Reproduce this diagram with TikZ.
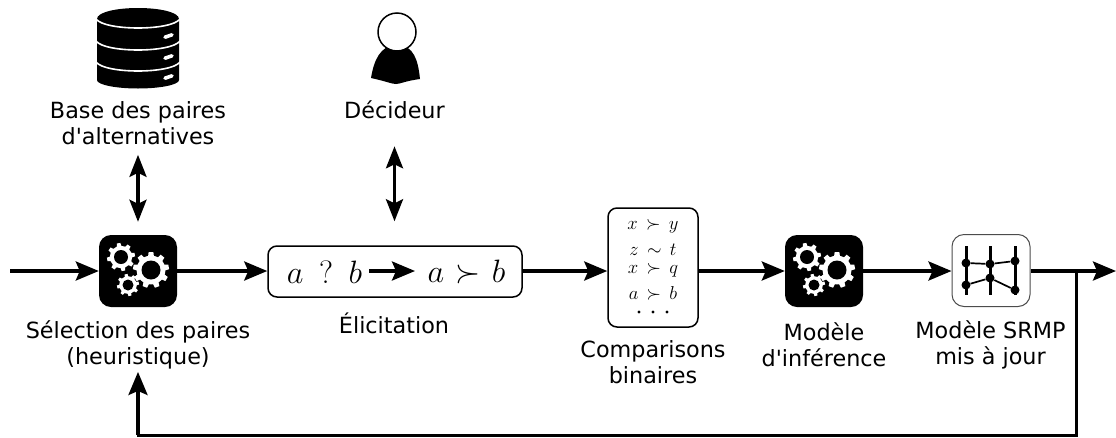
\documentclass[tikz,border=0pt]{standalone}
\usepackage{fontspec}
\usepackage{amssymb}
\setmainfont[Ligatures=TeXOff]{DejaVu Sans}
\usetikzlibrary{arrows.meta,calc}
\tikzset{
  flow/.style={line width=3.3pt,-{Stealth[length=23pt,width=19pt,inset=4pt]}},
  biflow/.style={line width=3.3pt,{Stealth[length=22pt,width=17pt,inset=4pt]}-{Stealth[length=22pt,width=17pt,inset=4pt]}},
  plain/.style={line width=3pt},
  label/.style={font=\fontsize{22.3}{26}\selectfont,align=center,inner sep=0pt},
  engine/.style={fill=black,rounded corners=12pt,minimum width=78pt,minimum height=72pt,inner sep=0pt},
  boxed/.style={draw,line width=1.5pt,rounded corners=9pt,inner sep=0pt,fill=white},
  mathbig/.style={font=\fontsize{24.88}{30}\selectfont,inner sep=0pt,scale=1.3,transform shape},
  mathsmall/.style={font=\fontsize{17}{20}\selectfont,inner sep=0pt,scale=1.08,transform shape},
  netline/.style={line width=3pt},
  netlink/.style={line width=1.7pt},
  netdot/.style={circle,fill=black,minimum size=9pt,inner sep=0pt}
}
\newcommand{\cog}[5]{% x y R r teeth
  \fill[white] (#1,#2) circle[radius=#3*0.8];
  \foreach \ang in {1,...,#5}{
    \fill[white,shift={(#1,#2)},rotate=\ang*360/#5+10] (#3*0.7,-#3*0.17) -- (#3,-#3*0.13) -- (#3,#3*0.13) -- (#3*0.7,#3*0.17) -- cycle;
  }
  \fill[black] (#1,#2) circle[radius=#4];
}
\newcommand{\gearset}[2]{%
  \begin{scope}[shift={(#1,#2)}]
  \cog{-17}{-14}{14}{7}{8}
  \cog{13}{-1}{18}{9.5}{9}
  \cog{-10}{14}{11}{5.5}{8}
  \end{scope}
}
\begin{document}
\begin{tikzpicture}[x=1pt,y=-1pt]
\useasboundingbox (0,0) rectangle (1116,437);
% database
\fill (97,19) -- (97,80) .. controls (97,85) and (117,88.5) .. (138,88.5) .. controls (159,88.5) and (179,85) .. (179,80) -- (179,19) .. controls (179,12) and (159,8) .. (138,8) .. controls (117,8) and (97,12) .. (97,19) -- cycle;
\foreach \yy in {19,41,62}{
  \draw[white,line width=1.6pt] (96,\yy) .. controls (105,\yy+12) and (171,\yy+12) .. (180,\yy);
}
\foreach \yy in {36,57,77}{
  \draw[white,line width=3.6pt,line cap=round] (165,\yy+1.2) -- (172,\yy-1.2);
}
% person
\fill (371,78) .. controls (374,60) and (380,46) .. (397,44) .. controls (414,46) and (418,60) .. (420,79) .. controls (405,81) and (400,84) .. (396,84) .. controls (392,84) and (385,81) .. (371,78) -- cycle;
\draw[line width=1.5pt,fill=white] (397,32) circle[radius=19];
% labels
\node[label] (base) at (138,123) {Base des paires\\d'alternatives};
\node[label] (dec) at (394.5,110) {Décideur};
\node[label] (sel) at (138,344.5) {Sélection des paires\\(heuristique)};
\node[label] (eli) at (394,323) {Élicitation};
\node[label] (comp) at (653,362) {Comparisons\\binaires};
\node[label] (inf) at (824,345) {Modèle\\d'inférence};
\node[label] (maj) at (990.5,345) {Modèle SRMP\\mis à jour};
% engines
\node[engine] (g1) at (138,271) {};
\gearset{138}{271}
\node[engine] (g2) at (824,271) {};
\gearset{824}{271}
% elicitation box
\node[boxed,minimum width=254pt,minimum height=51pt] (elibox) at (395,271.5) {};
\node[mathbig] (q) at (324.5,272) {$a\,\ ?\,\ b$};
\node[mathbig] (r) at (466.5,272) {$a\mskip1.2mu\succ\mskip1.2mu b$};
\draw[flow] (369,271) -- (415,271);
% comparisons
\node[boxed,minimum width=90pt,minimum height=119pt] (cmp) at (653,267.5) {};
\node[mathsmall] at (653,226) {$x\,\succ\,y$};
\node[mathsmall] at (653,250) {$z\,\sim\,t$};
\node[mathsmall] at (653,270) {$x\,\succ\,q$};
\node[mathsmall] at (653,293) {$a\,\succ\,b$};
\foreach \xx in {639,653,667}{\fill (\xx,312) circle[radius=1.7];}
% SRMP
\node[draw=black!70,line width=1pt,rounded corners=12pt,minimum width=78pt,minimum height=72pt,inner sep=0pt,fill=white] (srmp) at (991,270.5) {};
\foreach \xx in {966,990,1015}{\draw[netline] (\xx,246) -- (\xx,295);}
\node[netdot] (a1) at (966,263) {};
\node[netdot] (a2) at (990,264) {};
\node[netdot] (a3) at (1015,261) {};
\node[netdot] (b1) at (966,285) {};
\node[netdot] (b2) at (990,278) {};
\node[netdot] (b3) at (1015,290) {};
\draw[netlink] (a1)--(a2)--(a3) (b1)--(b2)--(b3);
% connectors
\coordinate (in) at (10,271);
\coordinate (out) at (1116,271);
\coordinate (tap) at (1076,271);
\coordinate (c1) at (1076,435);
\coordinate (c2) at (138,435);
\draw[flow] (in) -- (g1.west);
\draw[flow] (g1.east) -- (elibox.west |- g1.east);
\draw[flow] (elibox.east |- g1.east) -- (cmp.west |- g1.east);
\draw[flow] (cmp.east |- g1.east) -- (g2.west);
\draw[flow] (g2.east) -- (srmp.west |- g1.east);
\draw[flow] (srmp.east |- g1.east) -- (out);
\draw[plain,line join=miter] (tap) -- (c1) -- (c2) -- (138,400);
\draw[flow,shorten >=3pt] (c2) -- (sel.south);
\draw[biflow,shorten <=10pt,shorten >=13pt] (base.south) -- (g1.north);
\draw[biflow,shorten <=27pt,shorten >=24pt] (dec.south) -- (dec.south |- elibox.north);
\end{tikzpicture}
\end{document}
